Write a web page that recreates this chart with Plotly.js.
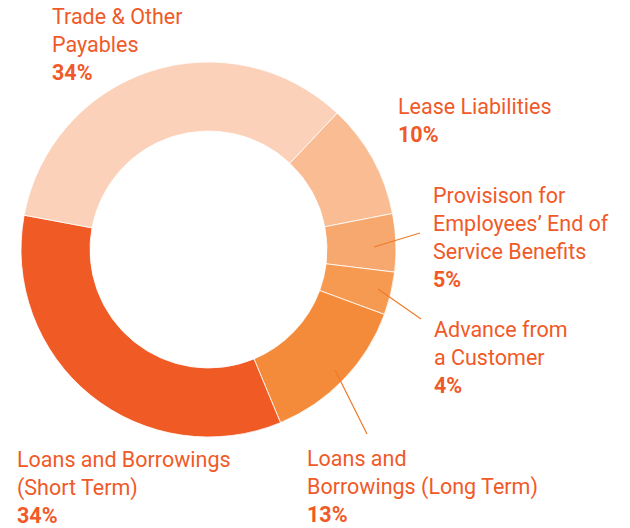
<!DOCTYPE html>
<html>
<head>
<meta charset="utf-8">
<script src="https://cdn.plot.ly/plotly-3.0.1.min.js"></script>
<style>html,body{margin:0;padding:0;background:#fff;}#chart{width:630px;height:528px;}</style>
</head>
<body>
<div id="chart"></div>
<script>
// Data (clockwise from top-right)
const categories = [
  "Lease Liabilities",
  "Provisison for<br>Employees\u2019 End of<br>Service Benefits",
  "Advance from<br>a Customer",
  "Loans and<br>Borrowings (Long Term)",
  "Loans and Borrowings<br>(Short Term)",
  "Trade & Other<br>Payables"
];
const shares = [9.9, 5.0, 3.7, 13.1, 34.2, 34.1];
const pctLabels = ["10%", "5%", "4%", "13%", "34%", "34%"];
const sliceColors = ["#F9BC93", "#F7A86F", "#F69A52", "#F48B3B", "#F05A24", "#FBD1BA"];

// label placement (paper coordinates) - layout only
const labelPos = [
  [397, 120], [432, 238], [433, 357], [306, 486], [16, 487], [51, 45]
];
const W = 630, H = 528;
const textColor = "#F05A28";

const annotations = categories.map((c, i) => ({
  xref: "paper", yref: "paper",
  x: labelPos[i][0] / W, y: 1 - labelPos[i][1] / H,
  xanchor: "left", yanchor: "middle", align: "left",
  showarrow: false, borderpad: 0,
  text: c + "<br><b>" + pctLabels[i] + "</b>",
  font: {family: "Roboto, sans-serif", size: 21.5, color: textColor}
}));

const leaders = [
  [374, 247, 420, 233],
  [378, 289, 421, 319],
  [335, 370, 367, 434]
];
const shapes = leaders.map(l => ({
  type: "line", xref: "paper", yref: "paper",
  x0: l[0] / W, y0: 1 - l[1] / H, x1: l[2] / W, y1: 1 - l[3] / H,
  line: {color: "#F07A2A", width: 1.2}
}));

const trace = {
  type: "pie",
  labels: categories,
  values: shares,
  sort: false,
  direction: "clockwise",
  rotation: 43.3,
  hole: 0.632,
  textinfo: "none",
  hoverinfo: "label+percent",
  marker: {colors: sliceColors, line: {color: "#ffffff", width: 0.8}},
  domain: {x: [21 / W, 396 / W], y: [1 - 437 / H, 1 - 62 / H]},
  showlegend: false
};

Plotly.newPlot("chart", [trace], {
  width: W, height: H,
  margin: {l: 0, r: 0, t: 0, b: 0},
  paper_bgcolor: "#ffffff",
  showlegend: false,
  annotations: annotations,
  shapes: shapes
}, {displayModeBar: false, staticPlot: true});
</script>
</body>
</html>
